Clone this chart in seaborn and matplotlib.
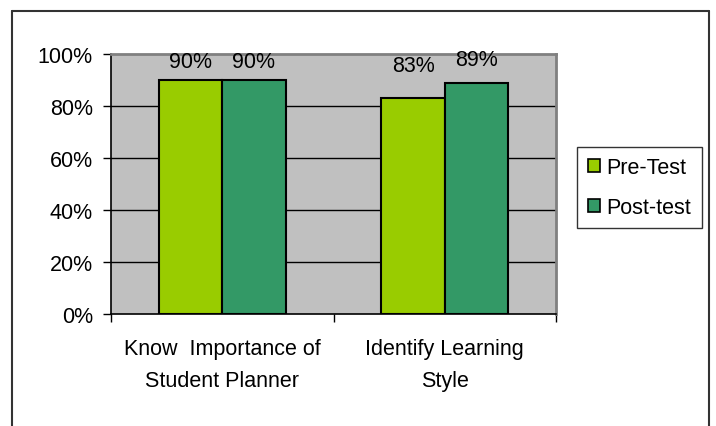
import matplotlib
matplotlib.use("Agg")
import matplotlib.pyplot as plt
import seaborn as sns
import pandas as pd
from matplotlib.lines import Line2D
from matplotlib.patches import Patch

categories = ["Know  Importance of\nStudent Planner", "Identify Learning\nStyle"]
series = ["Pre-Test", "Post-test"]
pre_values = [90, 83]
post_values = [90, 89]
yticks = [0, 20, 40, 60, 80, 100]
ytick_labels = ["0%", "20%", "40%", "60%", "80%", "100%"]
colors = ["#99CC00", "#339966"]
label_offsets = [[9.6, 19.4], [9.6, 12.7]]  # per series, per category (points)

df = pd.DataFrame({
    "category": categories * 2,
    "series": [series[0]] * 2 + [series[1]] * 2,
    "value": pre_values + post_values,
})

sns.set_theme(style="white")
plt.rcParams["font.family"] = ["Liberation Sans", "DejaVu Sans"]
FS = 15.5

fig = plt.figure(figsize=(7.16, 4.27), dpi=100)
ax = fig.add_axes([111 / 716, 1 - 315 / 427, (556 - 111) / 716, (315 - 55) / 427])
ax.set_facecolor("#C0C0C0")

sns.barplot(data=df, x="category", y="value", hue="series", palette=colors,
            saturation=1, width=0.57, edgecolor="black", linewidth=1.5, ax=ax,
            legend=False, zorder=3)

ax.set_ylim(0, 100)
ax.set_xlim(-0.5, 1.5)
ax.set_yticks(yticks)
ax.set_yticklabels(ytick_labels, fontsize=FS, color="black")
for y in yticks[1:-1]:
    ax.axhline(y, color="black", lw=1, zorder=1)

ax.set_xticks([0, 1])
ax.set_xticklabels(categories, fontsize=FS, color="black", linespacing=1.7)
ax.set_xticks([-0.5, 0.5, 1.5], minor=True)
ax.tick_params(axis="x", which="major", length=0, pad=17)
ax.tick_params(axis="x", which="minor", length=6, width=1, color="black", direction="out", bottom=True)
ax.tick_params(axis="y", length=6, width=1, color="black", direction="out", left=True, pad=7)
ax.set_xlabel("")
ax.set_ylabel("")

for s in ["left", "bottom"]:
    ax.spines[s].set_color("black")
    ax.spines[s].set_linewidth(1.2)
for s in ["top", "right"]:
    ax.spines[s].set_color("#808080")
    ax.spines[s].set_linewidth(2)

# value labels
for si, container in enumerate(ax.containers):
    for ci, bar in enumerate(container):
        h = bar.get_height()
        ax.annotate(f"{h:.0f}%", (bar.get_x() + bar.get_width() / 2, h),
                    xytext=(0, label_offsets[si][ci]), textcoords="offset points",
                    ha="center", va="baseline", fontsize=FS, color="black",
                    zorder=5, annotation_clip=False)

handles = [Patch(facecolor=c, edgecolor="black", linewidth=1.2) for c in colors]
leg = fig.legend(handles, series, loc="center left",
                 bbox_to_anchor=(577 / 716, 1 - 188.5 / 427), borderaxespad=0,
                 fontsize=FS, frameon=True, fancybox=False, handlelength=0.55,
                 handleheight=0.55, handletextpad=0.3, labelspacing=0.85,
                 borderpad=0.5)
leg.get_frame().set_edgecolor("black")
leg.get_frame().set_linewidth(1)
for t in leg.get_texts():
    t.set_color("black")

# outer chart border (left, top, right)
bx0, by0, bx1 = 11.5 / 716, 1 - 11.5 / 427, 708.5 / 716
fig.add_artist(Line2D([bx0, bx0], [0, by0], transform=fig.transFigure, color="#333333", lw=1.5))
fig.add_artist(Line2D([bx0, bx1], [by0, by0], transform=fig.transFigure, color="#333333", lw=1.5))
fig.add_artist(Line2D([bx1, bx1], [0, by0], transform=fig.transFigure, color="#333333", lw=1.5))

fig.savefig("out.png", dpi=100, facecolor="white")
